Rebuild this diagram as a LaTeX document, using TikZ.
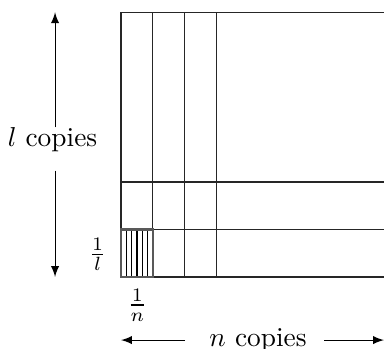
\documentclass[tikz,border=0pt]{standalone}
\usetikzlibrary{positioning}
\begin{document}
\begin{tikzpicture}[>=latex, grid/.style={black!85}, cell/.style={line width=1pt, black!65}]
	\def\cw{0.41}
	\def\ch{0.61}
	\def\boxtop{3.4}
	\def\xr{3.377}
	\useasboundingbox (-1.554,-0.924) rectangle (\xr,3.557);
	\coordinate (O) at (0,0);
	\coordinate (ltop) at (-0.847,\boxtop);
	\coordinate (lbot) at (-0.847,0);
	\coordinate (nleft) at (0,-0.81);
	\coordinate (nright) at (\xr,-0.81);
	
	% the big box, cut off on the right
	\foreach \i in {1,2,3} \draw[grid] (\i*\cw,0) -- (\i*\cw,\boxtop);
	\foreach \j in {1,2} \draw[grid] (0,\j*\ch) -- (\xr,\j*\ch);
	\draw[grid] (\xr,\boxtop) -- (0,\boxtop) -- (O) -- (\xr,0);
	
	% the small cell
	\foreach \i in {1,...,5} \draw (\i*\cw/6,0) -- (\i*\cw/6,\ch);
	\draw[cell] (O) rectangle (\cw,\ch);
	\node (fl) at (-0.30,0.29) {$\frac{1}{l}$};
	\node (fn) at (0.21,-0.36) {$\frac{1}{n}$};
	
	\node[inner ysep=0pt] (lcop) at (-0.88,1.759) {$l$ copies};
	\draw[->] (lcop.north -| ltop) -- (ltop);
	\draw[->,shorten <=0.23cm] (lcop.south -| lbot) -- (lbot);
	\node (ncop) at (1.76,-0.81) {$n$ copies};
	\draw[->,shorten <=0.19cm] (ncop.west) -- (nleft);
	\draw[->,shorten <=0.1cm] (ncop.east) -- (nright);
\end{tikzpicture}
\end{document}
